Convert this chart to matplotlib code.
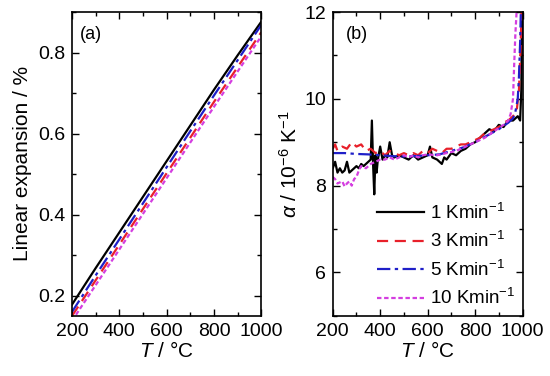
import matplotlib
matplotlib.use('Agg')
import matplotlib.pyplot as plt
import numpy as np

plt.rcParams['font.family'] = ['Liberation Sans', 'DejaVu Sans']
plt.rcParams['mathtext.fontset'] = 'custom'
plt.rcParams['mathtext.rm'] = 'Liberation Sans'
plt.rcParams['mathtext.it'] = 'Liberation Sans:italic'

# (a) Linear expansion / %
T_exp = [200, 300, 400, 500, 600, 700, 800, 900, 1000]
exp_1 = [0.178, 0.268, 0.356, 0.444, 0.532, 0.620, 0.708, 0.793, 0.876]
exp_3 = [0.150, 0.238, 0.326, 0.414, 0.502, 0.590, 0.678, 0.764, 0.850]
exp_5 = [0.160, 0.250, 0.339, 0.428, 0.517, 0.606, 0.694, 0.781, 0.868]
exp_10 = [0.138, 0.226, 0.314, 0.402, 0.490, 0.578, 0.666, 0.753, 0.840]

# (b) alpha / 1e-6 K^-1
T_a1 = [200, 210, 220, 230, 240, 250, 260, 270, 280, 290, 300, 310, 320, 330,
        340, 350, 360, 365, 370, 375, 380, 385, 390, 400, 410, 420, 430, 440,
        450, 460, 480, 500, 520, 540, 560, 580, 600, 610, 620, 640, 660, 670,
        680, 700, 720, 740, 760, 780, 800, 820, 840, 860, 880, 900, 920, 940,
        960, 980, 990, 995, 998]
a_1 = [8.4, 8.55, 8.3, 8.4, 8.3, 8.35, 8.55, 8.3, 8.35, 8.4, 8.45, 8.4, 8.5, 8.45,
       8.5, 8.55, 8.6, 9.5, 8.5, 7.8, 8.7, 8.3, 8.6, 8.9, 8.6, 8.7, 8.65, 9.0,
       8.7, 8.65, 8.7, 8.65, 8.6, 8.7, 8.6, 8.65, 8.7, 8.9, 8.65, 8.6, 8.5, 8.65,
       8.6, 8.75, 8.7, 8.8, 8.85, 8.95, 9.0, 9.1, 9.2, 9.3, 9.25, 9.4, 9.35, 9.5,
       9.5, 9.6, 9.5, 10.2, 12.0]

T_a3 = [200, 210, 220, 240, 260, 280, 300, 320, 340, 360, 380, 400, 420, 440,
        460, 480, 500, 520, 540, 560, 580, 600, 620, 640, 660, 680, 700, 720,
        740, 760, 780, 800, 820, 840, 860, 880, 900, 920, 940, 960, 975, 985,
        992, 996]
a_3 = [8.85, 8.95, 8.8, 8.9, 8.85, 9.0, 8.9, 8.95, 8.8, 8.85, 8.75, 8.8, 8.7, 8.8,
       8.75, 8.7, 8.75, 8.7, 8.75, 8.7, 8.8, 8.75, 8.85, 8.8, 8.75, 8.85, 8.85, 8.9,
       8.95, 8.95, 9.0, 9.05, 9.1, 9.2, 9.25, 9.3, 9.35, 9.45, 9.5, 9.6, 9.7, 10.2,
       11.2, 12.0]

T_a5 = [200, 250, 300, 350, 400, 450, 500, 550, 600, 650, 700, 750, 800, 850,
        900, 940, 960, 970, 980, 985, 990, 993]
a_5 = [8.75, 8.75, 8.73, 8.72, 8.7, 8.68, 8.67, 8.68, 8.7, 8.72, 8.8, 8.88, 9.0, 9.15,
       9.3, 9.45, 9.55, 9.7, 10.0, 10.5, 11.3, 12.0]

T_a10 = [200, 210, 220, 240, 250, 260, 270, 280, 290, 300, 310, 320, 340, 360,
         380, 400, 420, 440, 460, 480, 500, 520, 540, 560, 580, 600, 640, 680,
         720, 760, 800, 840, 880, 920, 940, 950, 960, 965, 970, 975]
a_10 = [8.2, 8.15, 8.05, 8.1, 7.98, 8.05, 8.1, 8.0, 8.15, 8.2, 8.35, 8.45, 8.4, 8.5,
        8.55, 8.6, 8.6, 8.65, 8.6, 8.65, 8.7, 8.65, 8.7, 8.65, 8.7, 8.72, 8.7, 8.75,
        8.8, 8.9, 9.0, 9.1, 9.25, 9.4, 9.5, 9.65, 10.0, 10.8, 11.5, 12.0]

labels = ['1 Kmin$^{-1}$', '3 Kmin$^{-1}$', '5 Kmin$^{-1}$', '10 Kmin$^{-1}$']
colors = ['black', '#e8202a', '#1f1fc8', '#d43ee0']
styles = ['-', (0, (5, 3)), (0, (6, 2, 1.5, 2)), (0, (2, 1.2))]

fig = plt.figure(figsize=(5.5, 3.76), dpi=100)
ax1 = fig.add_axes([0.131, 0.16, 0.344, 0.808])
ax2 = fig.add_axes([0.605, 0.16, 0.345, 0.808])

for y, c, ls in zip([exp_1, exp_3, exp_5, exp_10], colors, styles):
    ax1.plot(T_exp, y, color=c, linestyle=ls, lw=1.6)
ax1.set_ylim(0.15, 0.9)
ax1.set_yticks([0.2, 0.4, 0.6, 0.8])
ax1.set_ylabel('Linear expansion / %', fontsize=15, labelpad=4)
ax1.text(0.04, 0.955, '(a)', transform=ax1.transAxes, fontsize=13, va='top')

data_b = [(T_a1, a_1), (T_a3, a_3), (T_a5, a_5), (T_a10, a_10)]
for (t, a), c, ls, lab in zip(data_b, colors, styles, labels):
    ax2.plot(t, a, color=c, linestyle=ls, lw=1.6, label=lab)
ax2.set_ylim(5, 12)
ax2.set_yticks([6, 8, 10, 12])
ax2.set_ylabel(r'$\alpha$ / 10$^{-6}$ K$^{-1}$', fontsize=15, labelpad=2)
ax2.text(0.07, 0.955, '(b)', transform=ax2.transAxes, fontsize=13, va='top')
ax2.legend(loc='lower right', frameon=False, fontsize=13.5, handlelength=2.5,
           handletextpad=0.3, labelspacing=0.45, borderaxespad=0.0,
           bbox_to_anchor=(1.0, 0.0))

for ax, minor_y in [(ax1, 0.1), (ax2, 1)]:
    ax.set_xlim(200, 1000)
    ax.set_xticks([200, 400, 600, 800, 1000])
    ax.xaxis.set_minor_locator(matplotlib.ticker.MultipleLocator(100))
    ax.yaxis.set_minor_locator(matplotlib.ticker.MultipleLocator(minor_y))
    ax.tick_params(which='both', direction='in', top=True, right=True,
                   labelsize=14, width=1)
    ax.tick_params(which='major', length=5, pad=5)
    ax.tick_params(which='minor', length=3)
    ax.set_xlabel('$T$ / °C', fontsize=15, labelpad=1)
    for s in ax.spines.values():
        s.set_linewidth(1.2)

fig.savefig('out.png', dpi=100)
